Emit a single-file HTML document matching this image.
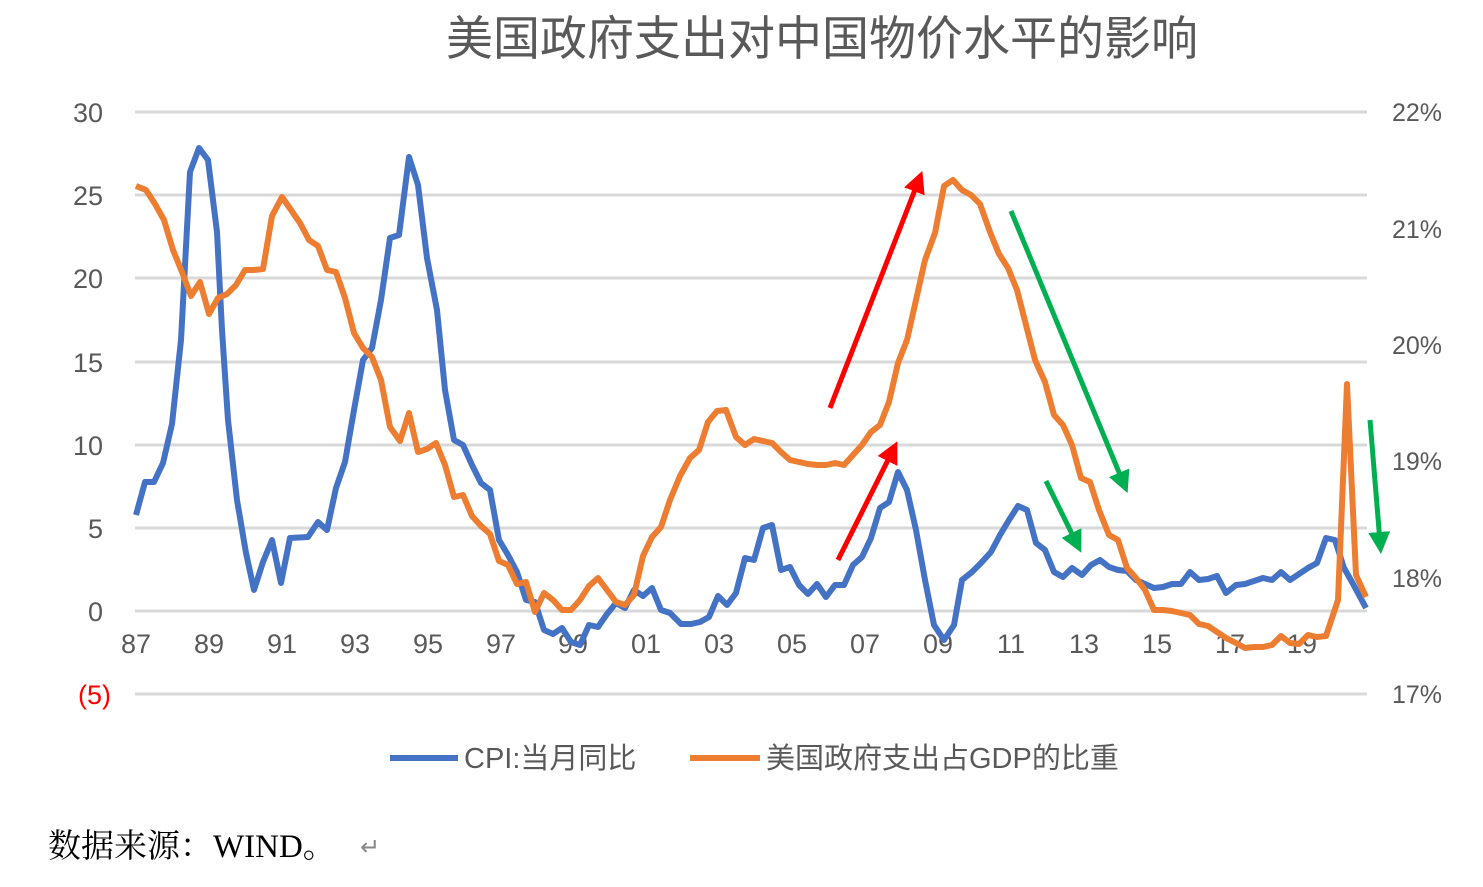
<!DOCTYPE html>
<html><head><meta charset="utf-8"><style>
body{margin:0;background:#fff;width:1483px;height:882px;overflow:hidden}
svg text{font-family:"Liberation Sans","Noto Sans CJK SC",sans-serif}
</style></head><body>
<svg width="1483" height="882" viewBox="0 0 1483 882" xmlns="http://www.w3.org/2000/svg">
<defs>
<marker id="ar" markerWidth="4.4" markerHeight="4.4" refX="2" refY="2.2" orient="auto" markerUnits="strokeWidth"><path d="M0,0 L4.4,2.2 L0,4.4 z" fill="#ff0000"/></marker>
<marker id="ag" markerWidth="4.4" markerHeight="4.4" refX="2" refY="2.2" orient="auto" markerUnits="strokeWidth"><path d="M0,0 L4.4,2.2 L0,4.4 z" fill="#00b050"/></marker>
</defs>
<text x="822" y="55" text-anchor="middle" font-size="47" fill="#595959">美国政府支出对中国物价水平的影响</text>
<g stroke="#d9d9d9" stroke-width="3">
<line x1="135" x2="1367" y1="112" y2="112"/><line x1="135" x2="1367" y1="195" y2="195"/><line x1="135" x2="1367" y1="278" y2="278"/><line x1="135" x2="1367" y1="362" y2="362"/><line x1="135" x2="1367" y1="445" y2="445"/><line x1="135" x2="1367" y1="528" y2="528"/><line x1="135" x2="1367" y1="611" y2="611"/><line x1="135" x2="1367" y1="694" y2="694"/>
</g>
<g font-size="27" fill="#595959" text-anchor="end">
<text x="103" y="122">30</text><text x="103" y="205">25</text><text x="103" y="288">20</text><text x="103" y="372">15</text><text x="103" y="455">10</text><text x="103" y="538">5</text><text x="103" y="621">0</text><text x="111" y="704" fill="#ff0000">(5)</text>
</g>
<g font-size="25" fill="#595959">
<text x="1392" y="121">22%</text><text x="1392" y="238">21%</text><text x="1392" y="354">20%</text><text x="1392" y="470">19%</text><text x="1392" y="587">18%</text><text x="1392" y="703">17%</text>
</g>
<g font-size="27" fill="#595959" text-anchor="middle">
<text x="136" y="653">87</text><text x="209" y="653">89</text><text x="282" y="653">91</text><text x="355" y="653">93</text><text x="428" y="653">95</text><text x="501" y="653">97</text><text x="573" y="653">99</text><text x="646" y="653">01</text><text x="719" y="653">03</text><text x="792" y="653">05</text><text x="865" y="653">07</text><text x="938" y="653">09</text><text x="1011" y="653">11</text><text x="1084" y="653">13</text><text x="1157" y="653">15</text><text x="1230" y="653">17</text><text x="1302" y="653">19</text>
</g>
<polyline fill="none" stroke="#4472c4" stroke-width="6" stroke-linejoin="round" points="136,515 145,482 154,482 163,463 172,424 181,340 190,172 199,148 208,160 217,232 222,330 228,420 237,500 246,553 254,590 263,562 272,540 281,583 290,538 308,537 318,522 327,530 336,488 345,462 354,410 363,360 372,348 381,300 390,238 399,235 409,157 418,185 427,258 437,310 445,390 454,440 463,445 472,465 481,483 490,490 499,540 508,555 517,572 526,600 535,602 544,630 553,634 562,628 571,642 580,645 589,625 598,627 607,614 616,603 625,608 634,590 643,596 652,588 661,610 670,613 681,624 691,624 700,622 709,617 718,596 727,605 736,593 745,558 754,560 763,528 772,525 781,570 790,567 799,585 808,594 817,584 826,597 835,585 844,585 853,565 862,557 871,538 880,508 889,502 898,472 907,490 916,530 925,580 934,625 944,640 954,625 962,580 972,572 981,563 991,552 1000,535 1009,520 1018,506 1027,510 1036,543 1045,550 1054,572 1063,577 1072,568 1082,575 1091,565 1100,560 1109,567 1118,570 1127,571 1136,580 1145,584 1154,588 1163,587 1172,584 1181,584 1190,572 1199,580 1208,579 1217,576 1226,593 1236,585 1245,584 1254,581 1263,578 1272,580 1281,572 1290,580 1299,574 1308,568 1317,563 1326,538 1335,540 1344,568 1352,582 1366,608"/>
<polyline fill="none" stroke="#ed7d31" stroke-width="6" stroke-linejoin="round" points="136,186 146,190 155,204 164,220 173,250 182,272 191,296 200,282 209,314 218,298 227,294 236,285 245,270 254,270 263,269 272,216 282,197 291,210 300,223 309,240 318,246 327,270 336,272 345,298 354,333 363,348 372,357 381,380 390,427 400,441 409,413 418,452 427,449 436,443 445,465 454,497 463,495 472,516 481,526 490,534 499,561 508,565 517,584 526,582 535,612 544,593 553,600 562,610 571,610 580,600 589,586 598,578 607,590 616,602 625,605 634,595 643,556 652,537 661,527 670,500 680,476 690,458 699,450 708,422 717,411 726,410 736,437 745,445 754,439 763,441 772,443 781,452 790,460 799,462 808,464 817,465 826,465 835,463 844,465 853,455 862,445 871,432 880,425 889,402 898,363 907,340 916,300 925,260 935,233 944,186 953,180 962,190 971,195 980,204 990,232 999,254 1008,268 1017,290 1026,325 1035,360 1045,382 1054,415 1063,425 1072,445 1081,478 1090,482 1099,510 1109,535 1118,540 1127,568 1136,578 1145,590 1154,610 1163,610 1172,611 1181,613 1190,615 1199,624 1208,626 1217,632 1226,638 1236,643 1245,648 1254,647 1263,647 1272,645 1281,636 1290,643 1299,644 1308,635 1317,637 1326,636 1338,600 1347,384 1356,575 1366,597"/>
<g stroke-width="5" fill="none">
<line x1="830" y1="408" x2="918" y2="182" stroke="#ff0000" marker-end="url(#ar)"/>
<line x1="838" y1="560" x2="892" y2="452" stroke="#ff0000" marker-end="url(#ar)"/>
<line x1="1011" y1="211" x2="1123" y2="482" stroke="#00b050" marker-end="url(#ag)"/>
<line x1="1046" y1="481" x2="1076" y2="542" stroke="#00b050" marker-end="url(#ag)"/>
<line x1="1370" y1="420" x2="1380" y2="542" stroke="#00b050" marker-end="url(#ag)"/>
</g>
<line x1="390" y1="758" x2="458" y2="758" stroke="#4472c4" stroke-width="6"/>
<text x="464" y="768" font-size="29" fill="#595959">CPI:当月同比</text>
<line x1="690" y1="758" x2="760" y2="758" stroke="#ed7d31" stroke-width="6"/>
<text x="766" y="768" font-size="29" fill="#595959">美国政府支出占GDP的比重</text>
<text x="48" y="857" font-size="33" fill="#000" style="font-family:'Liberation Serif','Noto Serif CJK SC',serif">数据来源：WIND。</text>
<text x="360" y="855" font-size="24" fill="#888">↵</text>
</svg>
</body></html>
